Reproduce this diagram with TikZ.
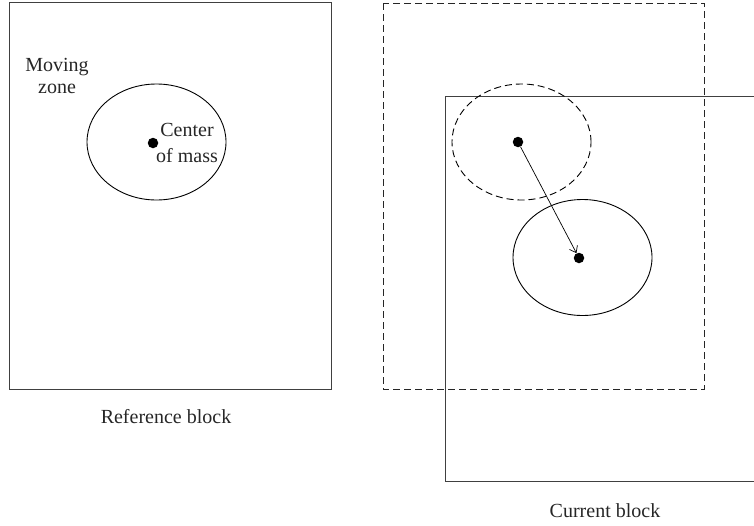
\documentclass[tikz,border=0pt]{standalone}
\usepackage{fontspec}
\setmainfont{Liberation Serif}
\usetikzlibrary{shapes.geometric,arrows.meta}
\begin{document}
\begin{tikzpicture}[x=1pt,y=-1pt,
  box/.style={draw=black!75,line width=1pt},
  dbox/.style={draw=black!85,line width=1pt,dash pattern=on 7pt off 4pt},
  zone/.style={draw,ellipse,minimum width=139pt,minimum height=116pt,inner sep=0pt,line width=0.9pt},
  dzone/.style={zone,dash pattern=on 7pt off 4pt},
  com/.style={circle,fill,inner sep=0pt,minimum size=10.5pt},
  lbl/.style={font=\fontsize{20}{22}\selectfont,text=black!85,align=center,inner sep=0pt}]
\useasboundingbox (0,0) rectangle (754,525);
\clip (0,0) rectangle (754,525);
% reference block
\draw[box] (9,2) rectangle (331,389);
\node[zone] (rz) at (156.5,142) {};
\node[com] (rc) at (153,143) {};
\node[lbl] (mz) at (57,76) {Moving\\zone};
\node[lbl,font=\fontsize{20}{26}\selectfont] (cm) at (187,143.3) {Center\\of mass};
\node[lbl,anchor=base] (rb) at (166,423) {Reference block};
% current block
\draw[dbox] (383,3) rectangle (704,389);
\draw[box] (445,96) rectangle (770,481);
\node[dzone] (pz) at (521.5,142) {};
\node[zone] (cz) at (582.5,257.5) {};
\node[com] (pc) at (518,142) {};
\node[com] (cc) at (579,258) {};
\draw[-{Straight Barb[length=6pt,width=9pt]},line width=0.7pt] (pc) -- (cc);
\node[lbl,anchor=base] (cb) at (605,517) {Current block};
\end{tikzpicture}
\end{document}
